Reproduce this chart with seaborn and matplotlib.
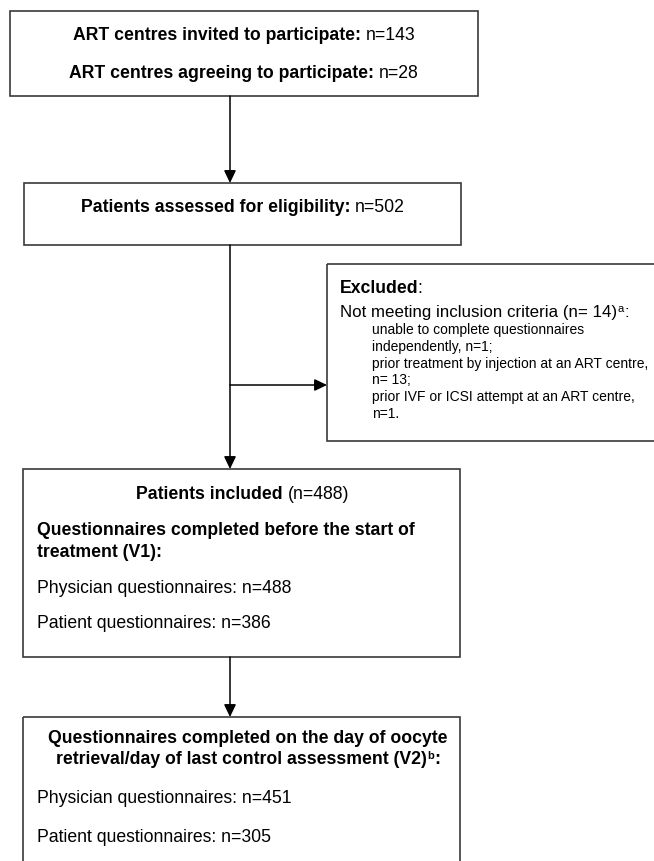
import matplotlib
matplotlib.use("Agg")
import matplotlib.pyplot as plt
import seaborn as sns
from matplotlib.patches import Rectangle

# ---------------- data ----------------
centre_labels = ["ART centres invited to participate:", "ART centres agreeing to participate:"]
centre_counts = [143, 28]
assessed_label = "Patients assessed for eligibility:"
assessed_count = 502
excluded_total = 14
exclusion_reasons = ["unable to complete questionnaires\nindependently,",
                     "prior treatment by injection at an ART centre,\n",
                     "prior IVF or ICSI attempt at an ART centre,\n"]
exclusion_counts = [1, 13, 1]
exclusion_count_fmt = ["n={};", "n= {};", "n={}."]
included_count = 488
questionnaire_labels = ["Physician questionnaires:", "Patient questionnaires:"]
v1_counts = [488, 386]
v2_counts = [451, 305]
v1_title = ["Questionnaires completed before the start of", "treatment (V1):"]
v2_title = ["Questionnaires completed on the day of oocyte",
            "retrieval/day of last control assessment (V2)"]

# ---------------- style ----------------
sns.set_style("white")
plt.rcParams['font.family'] = ['Liberation Sans', 'DejaVu Sans']
plt.rcParams['text.color'] = 'black'

W, H = 654, 862
fig = plt.figure(figsize=(W / 100, H / 100), dpi=100)
ax = fig.add_axes([0, 0, 1, 1])
ax.set_xlim(0, W)
ax.set_ylim(H, 0)
ax.axis("off")
renderer = fig.canvas.get_renderer()

BIG = 12.7
SMALL = 10.0
EDGE = "#3a3a3a"


def space_w(size):
    return 0.278 * size * 100 / 72


def draw_runs(x, y, runs, ha="left"):
    # runs: (text, weight, size, rise[, kern]); leading spaces become explicit gaps
    texts = []
    x0 = 0.0
    for r in runs:
        s, w, sz, dy = r[:4]
        kern = r[4] if len(r) > 4 else 0.0
        lead = len(s) - len(s.lstrip(" "))
        x0 += lead * space_w(sz) + (0.6 if lead == 0 and texts else 0) + kern
        t = ax.text(x0, y - dy, s.strip(" "), fontsize=sz, fontweight=w,
                    ha="left", va="baseline", color="black")
        bb = t.get_window_extent(renderer)
        x0 += bb.width
        texts.append(t)
    total = x0
    shift = x - total / 2 if ha == "center" else x
    for t in texts:
        px, py = t.get_position()
        t.set_position((px + shift, py))


def box(x0, y0, x1, y1):
    ax.add_patch(Rectangle((x0, y0), x1 - x0, y1 - y0, fill=False,
                           edgecolor=EDGE, lw=1.2, zorder=2))


def arrow(x0, y0, x1, y1):
    ax.annotate("", xy=(x1, y1), xytext=(x0, y0),
                arrowprops=dict(arrowstyle="-|>,head_length=0.75,head_width=0.36",
                                mutation_scale=10, lw=1.1, color="black",
                                shrinkA=0, shrinkB=0))


# ---------------- boxes ----------------
box(10, 12, 478, 97)
box(24, 184, 461, 246)
box(327, 265, 662, 442)
box(23, 470, 460, 658)
box(23, 718, 460, 890)

# ---------------- connectors ----------------
arrow(230, 97, 230, 184)
arrow(230, 246, 230, 470)
arrow(230, 386, 327, 386)
arrow(230, 658, 230, 718)

# ---------------- texts ----------------
for lab, n, yb in zip(centre_labels, centre_counts, [40, 78]):
    draw_runs(244, yb, [(lab, "bold", BIG, 0), (f" n={n}", "normal", BIG, 0)], ha="center")

draw_runs(243, 212, [(assessed_label, "bold", BIG, 0),
                     (f" n={assessed_count}", "normal", BIG, 0)], ha="center")

draw_runs(340, 293, [("Excluded", "bold", BIG, 0), (":", "normal", BIG, 0, -2.0)])
draw_runs(340, 317, [(f"Not meeting inclusion criteria (n= {excluded_total})", "normal", 12.2, 0),
                     ("a", "normal", 8, 5), (":", "normal", 12.2, 0)])
sub_lines = []
for reason, n, fmt in zip(exclusion_reasons, exclusion_counts, exclusion_count_fmt):
    first, second = reason.split("\n")
    cnt = fmt.format(n)
    sub_lines.append(first)
    sub_lines.append((second + " " + cnt).strip())
for i, line in enumerate(sub_lines):
    ax.text(372, 334 + i * 16.8, line, fontsize=SMALL, ha="left", va="baseline",
            color="black")

draw_runs(242.5, 499, [("Patients included", "bold", BIG, 0),
                       (f" (n={included_count})", "normal", BIG, 0)], ha="center")
ax.text(37, 535, v1_title[0], fontsize=BIG, fontweight="bold", va="baseline", color="black")
ax.text(37, 557, v1_title[1], fontsize=BIG, fontweight="bold", va="baseline", color="black")
for lab, n, yb in zip(questionnaire_labels, v1_counts, [593, 628]):
    ax.text(37, yb, f"{lab} n={n}", fontsize=BIG, va="baseline", color="black")

draw_runs(248, 743, [(v2_title[0], "bold", BIG, 0)], ha="center")
draw_runs(248, 764, [(v2_title[1], "bold", BIG, 0), ("b", "bold", 8, 5),
                     (":", "bold", BIG, 0)], ha="center")
for lab, n, yb in zip(questionnaire_labels, v2_counts, [803, 842]):
    ax.text(37, yb, f"{lab} n={n}", fontsize=BIG, va="baseline", color="black")

fig.savefig("out.png", dpi=100, facecolor="white")
